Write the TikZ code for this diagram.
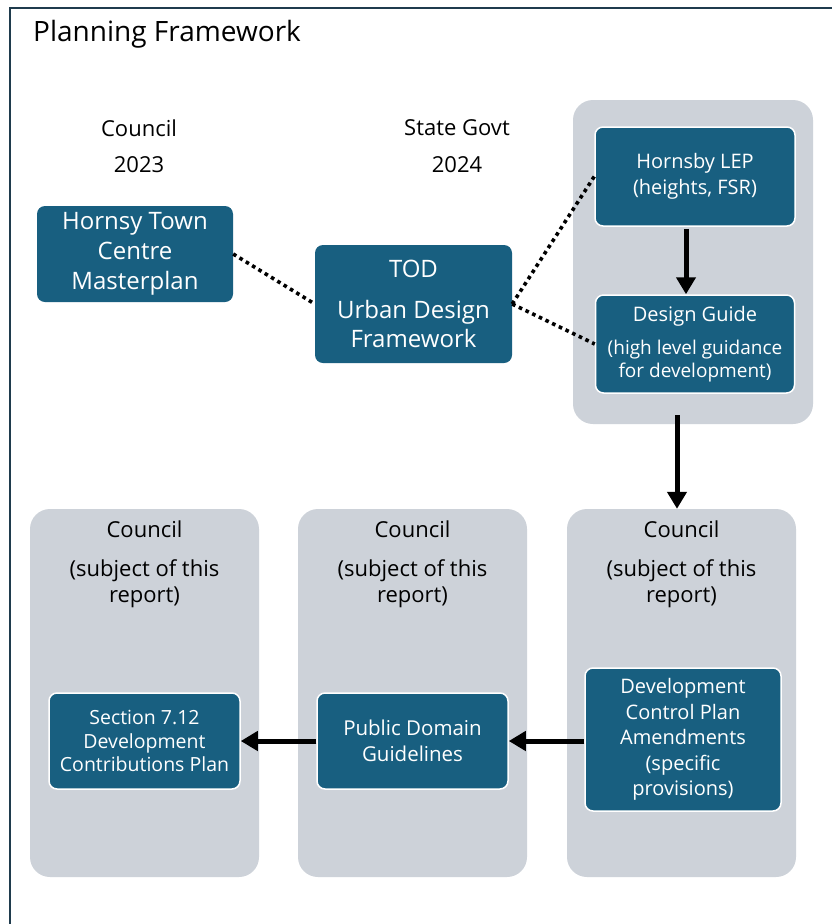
\documentclass[tikz,border=0pt]{standalone}
\usepackage{fontspec}
\setmainfont{Open Sans}
\usetikzlibrary{arrows.meta}
\definecolor{boxblue}{HTML}{185F80}
\definecolor{panelgray}{HTML}{CDD2D9}
\definecolor{framec}{HTML}{1F3B4D}
\tikzset{
  panel/.style={fill=panelgray, draw=none, rounded corners=20pt, anchor=center, inner sep=0pt},
  dbox/.style={fill=boxblue, draw=none, rounded corners=8pt, text=white, align=center, anchor=center, inner sep=2pt},
  wbox/.style={dbox, draw=white, line width=1.5pt},
  label/.style={text=black, align=center, anchor=center, inner sep=0pt},
  dotline/.style={line width=3.6pt, dash pattern=on 3.6pt off 3.8pt, black},
  bigarrow/.style={line width=5pt, black, -{Triangle[length=17pt,width=19pt]}},
}
\begin{document}
\begin{tikzpicture}[x=1pt,y=-1pt]
\useasboundingbox (0,0) rectangle (832,924);
\fill[white] (0,0) rectangle (832,924);
% frame
\draw[framec, line width=2pt] (832,8) -- (10,8) -- (10,924);
\node[label, anchor=west, font=\fontsize{28}{32}\selectfont] (title) at (33,34) {Planning Framework};

% top labels
\node[label, font=\fontsize{22}{26}\selectfont] (cl1) at (139,128) {Council};
\node[label, font=\fontsize{22}{26}\selectfont] (yr1) at (139,165) {2023};
\node[label, font=\fontsize{22}{26}\selectfont] (cl2) at (457,128) {State Govt};
\node[label, font=\fontsize{22}{26}\selectfont] (yr2) at (457,165) {2024};

% top boxes
\node[dbox, minimum width=196pt, minimum height=96pt, font=\fontsize{24}{30}\selectfont] (hts) at (135,254) {Hornsy Town\\Centre\\Masterplan};
\node[dbox, minimum width=197pt, minimum height=118pt, font=\fontsize{24}{29}\selectfont] (tod) at (413.5,304) {TOD\\[12pt]Urban Design\\Framework};

% top right panel
\node[panel, minimum width=240pt, minimum height=324pt] (toppanel) at (693,262) {};
\node[wbox, minimum width=200pt, minimum height=99pt, font=\fontsize{20}{26}\selectfont] (lep) at (695,176.5) {Hornsby LEP\\(heights, FSR)};
\node[wbox, minimum width=199pt, minimum height=98pt, font=\fontsize{19}{23}\selectfont] (dg) at (695,344) {{\fontsize{20}{23}\selectfont Design Guide}\\[10pt](high level guidance\\for development)};

% bottom panels
\node[panel, minimum width=229pt, minimum height=368pt] (pl) at (144.5,693) {};
\node[panel, minimum width=229pt, minimum height=368pt] (pm) at (412.5,693) {};
\node[panel, minimum width=229pt, minimum height=368pt] (pr) at (681.5,693) {};

\node[label, font=\fontsize{22}{26}\selectfont] (pl1) at (144.5,529) {Council};
\node[label, font=\fontsize{22}{26}\selectfont] (pl2) at (144.5,583.5) {(subject of this\\report)};
\node[label, font=\fontsize{22}{26}\selectfont] (pm1) at (412.5,529) {Council};
\node[label, font=\fontsize{22}{26}\selectfont] (pm2) at (412.5,583.5) {(subject of this\\report)};
\node[label, font=\fontsize{22}{26}\selectfont] (pr1) at (681.5,529) {Council};
\node[label, font=\fontsize{22}{26}\selectfont] (pr2) at (681.5,583.5) {(subject of this\\report)};

\node[wbox, minimum width=191pt, minimum height=96pt, font=\fontsize{19.5}{23.5}\selectfont] (sec) at (144.5,741) {Section 7.12\\Development\\Contributions Plan};
\node[wbox, minimum width=191pt, minimum height=96pt, font=\fontsize{20.5}{26}\selectfont] (pd) at (412.5,741) {Public Domain\\Guidelines};
\node[wbox, minimum width=196pt, minimum height=143pt, font=\fontsize{20}{25.5}\selectfont] (dcp) at (683,739.5) {Development\\Control Plan\\Amendments\\(specific\\provisions)\rule[-3pt]{0pt}{0pt}};

% dotted connectors
\draw[dotline] (hts.east) -- (tod.west);
\draw[dotline] (tod.east) -- (lep.west);
\draw[dotline] (tod.east) -- (dg.west);

% arrows
\draw[bigarrow] ([xshift=-9pt,yshift=-2pt]lep.south) -- ([xshift=-9pt]dg.north);
\draw[bigarrow] ([xshift=-16pt,yshift=9pt]toppanel.south) -- ([xshift=-4.5pt]pr.north);
\draw[bigarrow] (dcp.west |- pd.east) -- (pd.east);
\draw[bigarrow] (pd.west) -- (sec.east);
\end{tikzpicture}
\end{document}
